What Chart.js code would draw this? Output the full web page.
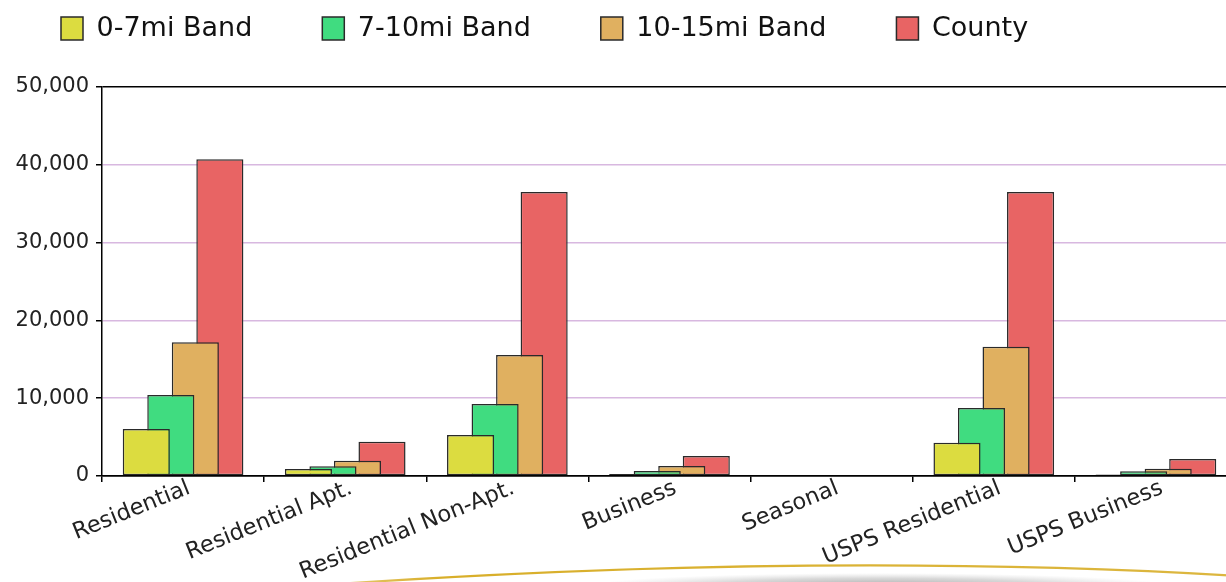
<!DOCTYPE html>
<html>
<head>
<meta charset="utf-8">
<script src="https://cdn.jsdelivr.net/npm/chart.js@4/dist/chart.umd.min.js"></script>
<style>
  html, body { margin: 0; padding: 0; background: #fff; overflow: hidden; width: 1226px; height: 582px; position: relative; }
  #chart { position: absolute; left: -9px; top: -55px; width: 1246px; height: 637px; }
</style>
</head>
<body>
<canvas id="chart" width="1246" height="637"></canvas>
<script>
// Delivery counts by address type, per distance band
const categories = ['Residential', 'Residential Apt.', 'Residential Non-Apt.', 'Business', 'Seasonal', 'USPS Residential', 'USPS Business'];
const seriesNames = ['0-7mi Band', '7-10mi Band', '10-15mi Band', 'County'];
const band0to7   = [6040,  900,  5270,  260, 0, 4280,  200];
const band7to10  = [10400, 1250, 9250,  640, 0, 8740,  600];
const band10to15 = [17200, 1970, 15550, 1290, 0, 16600, 940];
const county     = [40700, 4400, 36500, 2570, 0, 36500, 2200];
const seriesColors = ['#DCDC40', '#40DC80', '#E0B060', '#E86464'];
const yMax = 50000;
const yStep = 10000;

// the canvas is a little larger than the page and offset up/left
const SHIFT_X = 9, SHIFT_Y = 55;
const CANVAS_W = 1246, CANVAS_H = 637;
const FONT = 'DejaVu Sans';

// white page plus the decorative swoosh along the bottom edge
const backdrop = {
  id: 'backdrop',
  beforeDraw(chart) {
    const c = chart.ctx;
    c.save();
    c.fillStyle = '#fff';
    c.fillRect(0, 0, chart.width, chart.height);
    c.restore();

    c.save();
    c.translate(880 + SHIFT_X, 586 + SHIFT_Y);
    c.scale(1, 0.045);
    const g = c.createRadialGradient(0, 0, 0, 0, 0, 290);
    g.addColorStop(0, 'rgba(150,150,150,0.85)');
    g.addColorStop(0.6, 'rgba(170,170,170,0.45)');
    g.addColorStop(1, 'rgba(190,190,190,0)');
    c.fillStyle = g;
    c.beginPath();
    c.arc(0, 0, 290, 0, Math.PI * 2);
    c.fill();
    c.restore();

    c.save();
    const lg = c.createLinearGradient(330 + SHIFT_X, 0, 1240 + SHIFT_X, 0);
    lg.addColorStop(0, 'rgba(214,170,30,0.6)');
    lg.addColorStop(0.12, 'rgba(214,170,30,0.95)');
    lg.addColorStop(1, 'rgba(214,170,30,0.85)');
    c.strokeStyle = lg;
    c.lineWidth = 2.2;
    c.beginPath();
    c.moveTo(322 + SHIFT_X, 585 + SHIFT_Y);
    c.quadraticCurveTo(820 + SHIFT_X, 551 + SHIFT_Y, 1240 + SHIFT_X, 576 + SHIFT_Y);
    c.stroke();
    c.restore();
  }
};

const seriesData = [band0to7, band7to10, band10to15, county];

new Chart(document.getElementById('chart'), {
  type: 'bar',
  data: {
    labels: categories,
    datasets: seriesData.map((d, i) => ({
      label: seriesNames[i],
      data: d,
      backgroundColor: seriesColors[i],
      borderColor: '#2a2a2a',
      borderWidth: 1.5,
      borderSkipped: false,
      categoryPercentage: 0.605,
      barPercentage: 1.92
    }))
  },
  options: {
    responsive: false,
    animation: false,
    devicePixelRatio: 1,
    layout: { padding: 0 },
    plugins: {
      legend: {
        position: 'top',
        align: 'start',
        labels: {
          font: { family: FONT, size: 27 },
          color: '#111',
          boxWidth: 22,
          boxHeight: 23,
          padding: 70
        }
      },
      // empty spacer between the legend and the plot
      title: {
        display: true,
        text: '',
        position: 'top',
        weight: 500,
        font: { size: 10, lineHeight: 1 },
        padding: { top: 0, bottom: 25 }
      },
      tooltip: { enabled: false }
    },
    scales: {
      x: {
        grid: { offset: true, drawOnChartArea: false, color: '#000', tickColor: '#000', tickLength: 6, lineWidth: 1.5 },
        border: { color: '#000', width: 1.5 },
        ticks: {
          font: { family: FONT, size: 22.5 },
          color: '#222',
          minRotation: 22,
          maxRotation: 22,
          autoSkip: false,
          padding: -7,
          labelOffset: 6
        },
        afterFit(s) {
          s.height = CANVAS_H - (476 + SHIFT_Y);
          s.paddingLeft = 0;
          s.paddingRight = 0;
        }
      },
      y: {
        min: 0,
        max: yMax,
        ticks: {
          stepSize: yStep,
          autoSkip: false,
          font: { family: FONT, size: 21 },
          color: '#222',
          padding: 7,
          callback: v => v.toLocaleString('en-US')
        },
        grid: {
          color: ctx => (ctx.tick && (ctx.tick.value === yMax || ctx.tick.value === 0)) ? '#000' : '#D8B8E0',
          tickColor: '#000',
          tickLength: 6,
          lineWidth: 1.5
        },
        border: { color: '#000', width: 1.5 },
        afterFit(s) {
          s.width = 102 + SHIFT_X;
        }
      }
    }
  },
  plugins: [backdrop]
});
</script>
</body>
</html>
